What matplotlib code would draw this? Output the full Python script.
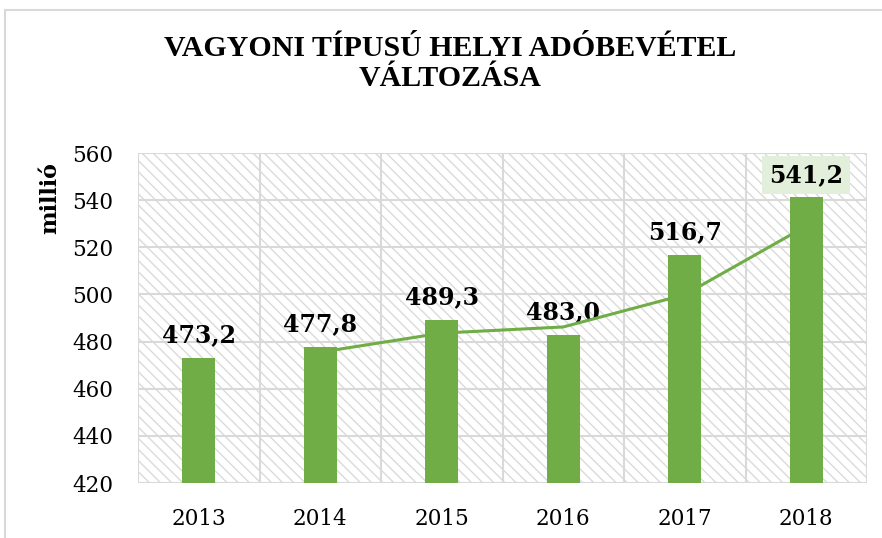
import matplotlib
matplotlib.use("Agg")
import matplotlib.pyplot as plt
from matplotlib.patches import Rectangle

years = ["2013", "2014", "2015", "2016", "2017", "2018"]
values = [473.2, 477.8, 489.3, 483.0, 516.7, 541.2]
labels = ["473,2", "477,8", "489,3", "483,0", "516,7", "541,2"]
trend = [None, 475.5, 483.6, 486.2, 499.9, 529.0]
yticks = [420, 440, 460, 480, 500, 520, 540, 560]

GREEN = "#70AD47"
plt.rcParams["hatch.color"] = "#dadada"
plt.rcParams["hatch.linewidth"] = 1.0

W, H = 882, 538
fig = plt.figure(figsize=(W / 100, H / 100), dpi=100)
fig.patch.set_facecolor("white")

# outer chart border
fig.add_artist(Rectangle((5 / W, -0.05), 1.2, (H - 10) / H + 0.05, transform=fig.transFigure,
                         fill=False, edgecolor="#d9d9d9", linewidth=1.5))

left, right, top, bottom = 138, 867, 153, 483
ax = fig.add_axes([left / W, 1 - bottom / H, (right - left) / W, (bottom - top) / H])
ax.set_xlim(-0.5, len(years) - 0.5)
ax.set_ylim(420, 560)

# hatched background
ax.add_patch(Rectangle((0, 0), 1, 1, transform=ax.transAxes, facecolor="white",
                       hatch="\\\\\\", edgecolor="#dadada", linewidth=0, zorder=0))

x = list(range(len(years)))
for xi in range(len(years) + 1):
    ax.axvline(xi - 0.5, color="#d9d9d9", linewidth=1.5, zorder=1)
for yt in yticks:
    ax.axhline(yt, color="#d9d9d9", linewidth=1.5, zorder=1)

ax.bar(x, [v - 420 for v in values], bottom=420, width=0.27, color=GREEN, zorder=2)

tx = [xi for xi, t in zip(x, trend) if t is not None]
ty = [t for t in trend if t is not None]

num = ["DejaVu Serif"]
serif = ["Liberation Serif", "DejaVu Serif"]
for xi, v, lab in zip(x, values, labels):
    kw = {}
    if xi == len(years) - 1:
        kw["bbox"] = dict(boxstyle="square,pad=0.3", facecolor="#E2EFDA", edgecolor="none")
    ax.text(xi, v + 4.5, lab, ha="center", va="bottom", fontsize=17, fontweight="bold",
            family=num, color="black", zorder=3, **kw)

ax.plot(tx, ty, color=GREEN, linewidth=2.2, zorder=4)

ax.set_xticks(x)
ax.set_xticklabels(years, family=num, fontsize=15.5)
ax.set_yticks(yticks)
ax.set_yticklabels([str(v) for v in yticks], family=num, fontsize=15.5)
ax.tick_params(axis="both", length=0)
ax.tick_params(axis="x", pad=18)
ax.tick_params(axis="y", pad=18)
for s in ax.spines.values():
    s.set_visible(False)

fig.text(450 / W, 1 - 48 / H, "VAGYONI TÍPUSÚ HELYI ADÓBEVÉTEL", ha="center", va="center",
         family=serif, fontweight="bold", fontsize=21.5)
fig.text(450 / W, 1 - 79 / H, "VÁLTOZÁSA", ha="center", va="center",
         family=serif, fontweight="bold", fontsize=21.5)
fig.text(50 / W, 1 - 198 / H, "millió", rotation=90, ha="center", va="center",
         family=num, fontweight="bold", fontsize=16)

fig.savefig("out.png", dpi=100)
